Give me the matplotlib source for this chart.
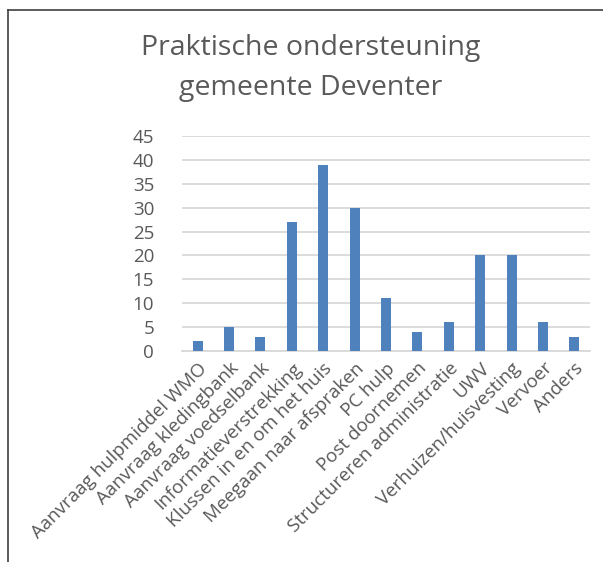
import matplotlib.pyplot as plt
from matplotlib.lines import Line2D

categories = ['Aanvraag hulpmiddel WMO', 'Aanvraag kledingbank', 'Aanvraag voedselbank',
              'Informatieverstrekking', 'Klussen in en om het huis', 'Meegaan naar afspraken',
              'PC hulp', 'Post doornemen', 'Structureren administratie', 'UWV',
              'Verhuizen/huisvesting', 'Vervoer', 'Anders']
values = [2, 5, 3, 27, 39, 30, 11, 4, 6, 20, 20, 6, 3]
yticks = [0, 5, 10, 15, 20, 25, 30, 35, 40, 45]

plt.rcParams['font.family'] = ['Open Sans', 'DejaVu Sans']
textcol = '#595959'

fig = plt.figure(figsize=(6.03, 5.62), dpi=100)
ax = fig.add_axes([182 / 603, 1 - 351 / 562, (590 - 182) / 603, (351 - 136) / 562])

x = range(len(categories))
ax.bar(x, values, width=0.32, color='#4F81BD', zorder=3)
ax.set_xlim(-0.5, len(categories) - 0.5)
ax.set_ylim(0, 45)
ax.set_yticks(yticks)
ax.grid(axis='y', color='#D9D9D9', linewidth=1.3, zorder=0)
for s in ['top', 'right', 'left']:
    ax.spines[s].set_visible(False)
ax.spines['bottom'].set_color('#D9D9D9')
ax.spines['bottom'].set_linewidth(1.3)
ax.tick_params(axis='both', length=0, colors=textcol, labelsize=13.5)
ax.tick_params(axis='y', pad=20)
ax.tick_params(axis='x', pad=6)
ax.set_xticks(list(x))
ax.set_xticklabels(categories, rotation=45, ha='right', rotation_mode='anchor', color=textcol)

fig.text(0.515, 1 - 68 / 562, 'Praktische ondersteuning\ngemeente Deventer', ha='center', va='center',
         fontsize=20.5, color=textcol, linespacing=1.55)

# chart border (top and left visible)
fig.add_artist(Line2D([8 / 603, 8 / 603], [0, 1 - 10 / 562], transform=fig.transFigure, color='#404040', lw=1.2))
fig.add_artist(Line2D([8 / 603, 1], [1 - 10 / 562, 1 - 10 / 562], transform=fig.transFigure, color='#404040', lw=1.2))

fig.savefig('out.png', dpi=100)
